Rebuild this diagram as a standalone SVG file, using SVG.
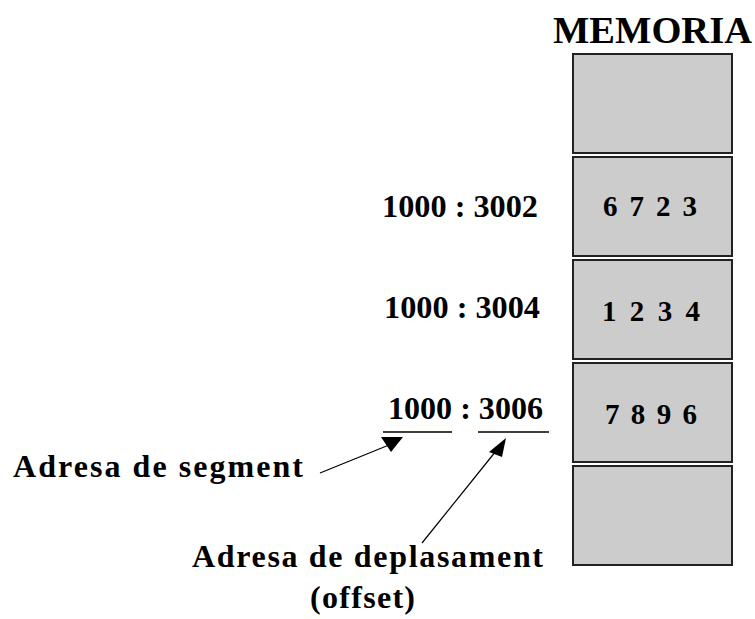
<svg xmlns="http://www.w3.org/2000/svg" width="755" height="619" viewBox="0 0 755 619">
<style>
.cell{fill:#cccccc;stroke:#222222;stroke-width:2}
.t{font-family:"Liberation Serif","Times New Roman",serif;font-weight:bold;fill:#000}
.addr{font-size:32px}
.val{font-size:29px}
.lab{font-size:32px}
.ln{stroke:#000;stroke-width:1.2;fill:none}
.ul{stroke:#000;stroke-width:1.6}
.ah{fill:#000}
</style>
<rect width="755" height="619" fill="#fff"/>
<g id="title"><text class="t" x="553" y="43" font-size="38" textLength="199" lengthAdjust="spacingAndGlyphs">MEMORIA</text></g>
<g id="cell1"><rect class="cell" x="573" y="54" width="159" height="99"/></g>
<g id="cell2"><rect class="cell" x="573" y="157" width="159" height="99"/><text class="t val" x="603" y="216" textLength="94" lengthAdjust="spacing">6 7 2 3</text></g>
<g id="cell3"><rect class="cell" x="573" y="260" width="159" height="99"/><text class="t val" x="602" y="321" textLength="98" lengthAdjust="spacing">1 2 3 4</text></g>
<g id="cell4"><rect class="cell" x="573" y="363" width="159" height="99"/><text class="t val" x="605" y="424" textLength="92" lengthAdjust="spacing">7 8 9 6</text></g>
<g id="cell5"><rect class="cell" x="573" y="466" width="159" height="99"/></g>
<g id="addr1"><text class="t addr" x="382" y="217" textLength="156" lengthAdjust="spacingAndGlyphs">1000 : 3002</text></g>
<g id="addr2"><text class="t addr" x="384" y="318" textLength="156" lengthAdjust="spacingAndGlyphs">1000 : 3004</text></g>
<g id="addr3"><text class="t addr" x="388" y="419" textLength="155" lengthAdjust="spacingAndGlyphs">1000 : 3006</text><line class="ul" x1="383" y1="432" x2="452" y2="432"/><line class="ul" x1="478" y1="432" x2="549" y2="432"/></g>
<g id="segment"><text class="t lab" x="13" y="477" textLength="290" lengthAdjust="spacing">Adresa de segment</text></g>
<g id="offset"><text class="t lab" x="192" y="567" textLength="351" lengthAdjust="spacing">Adresa de deplasament</text><text class="t lab" x="310" y="608" textLength="105" lengthAdjust="spacing">(offset)</text></g>
<g id="connectors">
<line class="ln" x1="320" y1="473" x2="389" y2="445"/>
<polygon class="ah" points="381,437 403,437 391,452"/>
<line class="ln" x1="422" y1="543" x2="496" y2="451"/>
<polygon class="ah" points="489,452 506,438 502,457"/>
</g>
</svg>
